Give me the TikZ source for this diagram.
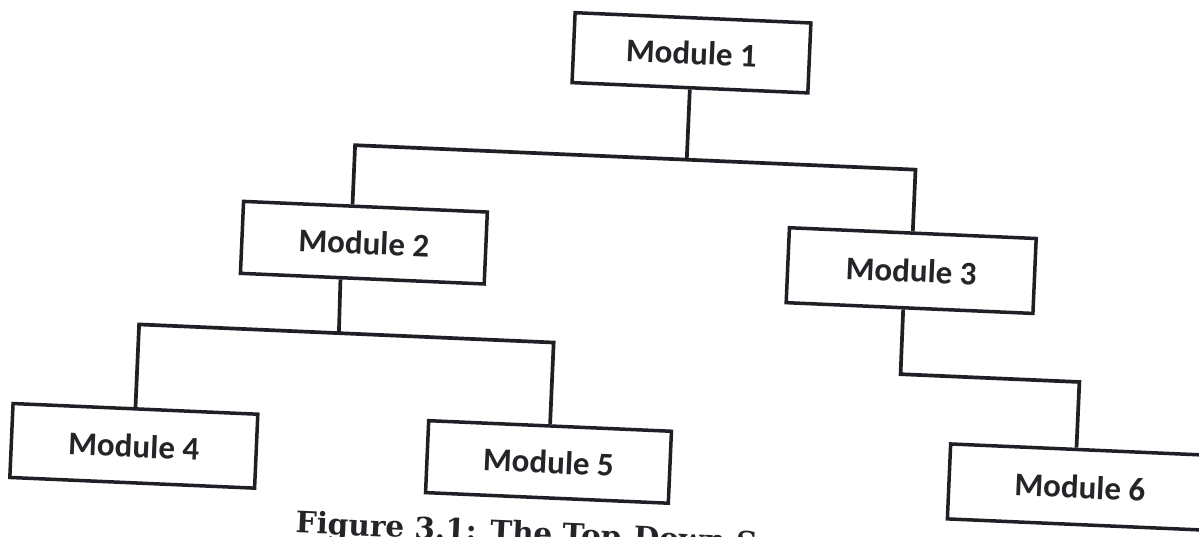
\documentclass[tikz,border=0pt]{standalone}
\usepackage{fontspec}
\newfontfamily\boxfont{Carlito}
\newfontfamily\captionfont{DejaVu Serif}
\definecolor{inkline}{HTML}{221E26}
\definecolor{inktext}{HTML}{262428}
\tikzset{
  modbox/.style={draw=inkline, line width=3.5pt, fill=white, inner sep=0pt,
    text=inktext, font=\boxfont\bfseries\fontsize{33}{38}\selectfont},
  link/.style={draw=inkline, line width=3.7pt},
  captiontext/.style={inner sep=0pt, text=inktext,
    font=\captionfont\bfseries\fontsize{29.5}{36}\selectfont}
}
\begin{document}
\begin{tikzpicture}[x=1pt,y=-1pt]
\useasboundingbox (0,0) rectangle (1199,536);
\fill[white] (0,0) rectangle (1199,536);
\begin{scope}[rotate around={-2.5:(600,268)}, transform shape]
  % module boxes
  \node[modbox, minimum width=236, minimum height=70] (m1) at (682,49)  {Module 1};
  \node[modbox, minimum width=244, minimum height=72] (m2) at (363,253) {Module 2};
  \node[modbox, minimum width=247, minimum height=75] (m3) at (911,257) {Module 3};
  \node[modbox, minimum width=245, minimum height=74] (m4) at (142,466) {Module 4};
  \node[modbox, minimum width=243, minimum height=72] (m5) at (557,464) {Module 5};
  \node[modbox, minimum width=280, minimum height=75] (m6) at (1098,466) {};
  \node[text=inktext, font=\boxfont\bfseries\fontsize{33}{38}\selectfont, inner sep=0pt]
    (m6t) at (1089,466) {Module 6};

  % junction points of the connector bars
  \coordinate (j1)  at (682,156);
  \coordinate (c1l) at (350,156);
  \coordinate (c1r) at (911,156);
  \coordinate (j2)  at (342,344.5);
  \coordinate (c2l) at (142,344.5);
  \coordinate (c2r) at (557,344.5);
  \coordinate (c3l) at (905,361);
  \coordinate (c3r) at (1084,361);

  % first level: Module 1 to Modules 2 and 3
  \draw[link] (m1.south) -- (j1);
  \draw[link] (m2.109) -- (c1l) -- (c1r) -- (m3.north);
  % second level: Module 2 to Modules 4 and 5
  \draw[link] (m2.240) -- (j2);
  \draw[link] (m4.north) -- (c2l) -- (c2r) -- (m5.north);
  % Module 3 to Module 6
  \draw[link] (m3.261) -- (c3l) -- (c3r) -- (c3r |- m6.north);

  % caption, running off the lower edge
  \node[captiontext, anchor=base west] (cap) at (307,546) {Figure 3.1: The Top-Down S};
\end{scope}
\end{tikzpicture}
\end{document}
